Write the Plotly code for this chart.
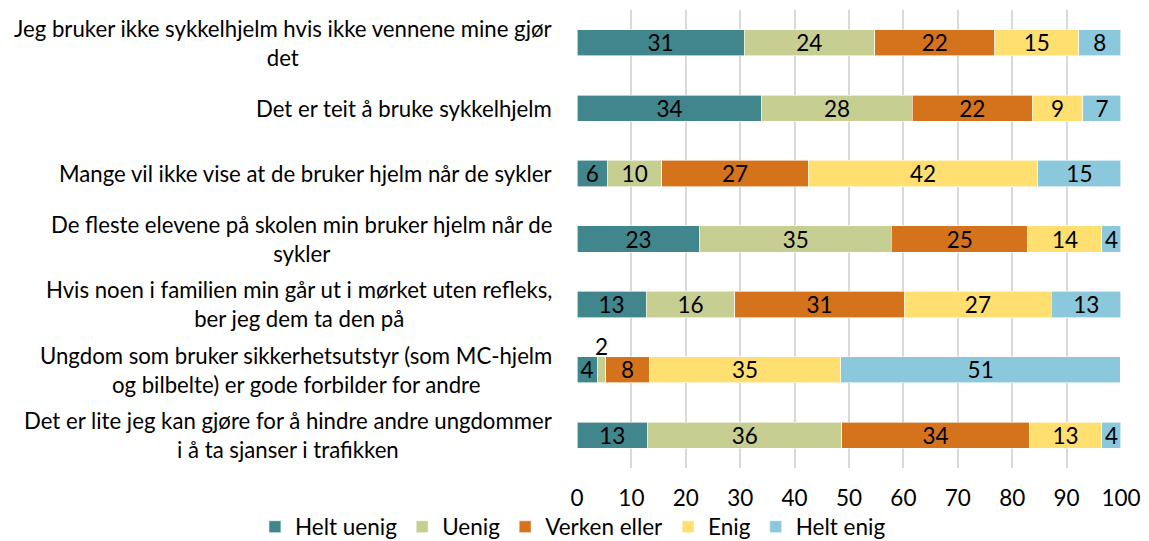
import plotly.graph_objects as go

categories = [
    "Jeg bruker ikke sykkelhjelm hvis ikke vennene mine gjør<br>det",
    "Det er teit å bruke sykkelhjelm",
    "Mange vil ikke vise at de bruker hjelm når de sykler",
    "De fleste elevene på skolen min bruker hjelm når de<br>sykler",
    "Hvis noen i familien min går ut i mørket uten refleks,<br>ber jeg dem ta den på",
    "Ungdom som bruker sikkerhetsutstyr (som MC-hjelm<br>og bilbelte) er gode forbilder for andre",
    "Det er lite jeg kan gjøre for å hindre andre ungdommer<br>i å ta sjanser i trafikken",
]
series_names = ["Helt uenig", "Uenig", "Verken eller", "Enig", "Helt enig"]
helt_uenig = [30.7, 34.0, 5.6, 22.6, 12.7, 3.7, 13.0]
uenig = [24.0, 27.6, 10.0, 35.2, 16.3, 1.6, 35.7]
verken_eller = [22.1, 22.1, 26.9, 25.1, 31.2, 8.0, 34.4]
enig = [15.4, 9.3, 42.2, 13.6, 27.0, 35.2, 13.4]
helt_enig = [7.8, 7.0, 15.3, 3.5, 12.8, 51.4, 3.5]
colors = ["#41868C", "#C6CE92", "#D5731D", "#FFDF70", "#8BC8DC"]
tick_vals = [0, 10, 20, 30, 40, 50, 60, 70, 80, 90, 100]

FONT = "Lato"
FS = 22.5
FS_CAT = 22.2

fig = go.Figure()
all_series = [helt_uenig, uenig, verken_eller, enig, helt_enig]
for name, vals, col in zip(series_names, all_series, colors):
    texts = [f"{v:.0f}" for v in vals]
    if name == "Uenig":
        texts[5] = ""  # label drawn above the bar instead
    fig.add_trace(go.Bar(
        y=categories, x=vals, name=name, orientation="h",
        marker=dict(color=col, line=dict(color="white", width=0.6)),
        text=texts, textposition="inside", insidetextanchor="middle",
        textangle=0,
        textfont=dict(family=FONT, size=FS, color="black"),
        cliponaxis=False,
    ))

# small "2" label above the tiny segment
fig.add_annotation(
    x=helt_uenig[5] + uenig[5] / 2, y=categories[5], xref="x", yref="y",
    text=f"{uenig[5]:.0f}", showarrow=False, yshift=23,
    font=dict(family=FONT, size=FS, color="black"),
)

# category labels as centred multi-line annotations
for c in categories:
    fig.add_annotation(
        x=-0.043, y=c, xref="paper", yref="y", text=c, showarrow=False,
        xanchor="right", align="center",
        font=dict(family=FONT, size=FS_CAT, color="black"),
    )

# page body has an 8px default margin -> shrink figure by 8px
fig.update_layout(
    barmode="stack",
    bargap=0.6,
    width=1141, height=533,
    margin=dict(l=569, r=28, t=2, b=73, autoexpand=False),
    plot_bgcolor="white", paper_bgcolor="rgba(0,0,0,0)",
    showlegend=True,
    legend=dict(
        orientation="h", xref="paper", yref="paper",
        x=-0.592, xanchor="left", y=-0.129, yanchor="middle",
        traceorder="normal", bgcolor="rgba(0,0,0,0)",
        font=dict(family=FONT, size=FS, color="black"),
        itemwidth=30, tracegroupgap=0,
    ),
    uniformtext=dict(minsize=FS, mode="show"),
    font=dict(family=FONT, size=FS, color="black"),
)
fig.update_xaxes(
    range=[0, 100.001], tickvals=tick_vals, showgrid=True,
    gridcolor="#D9D9D9", gridwidth=2, zeroline=False,
    ticks="outside", ticklen=10, tickcolor="rgba(0,0,0,0)",
    tickfont=dict(family=FONT, size=FS, color="black"),
    showline=False, fixedrange=True,
)
fig.update_yaxes(
    autorange="reversed", showticklabels=False, showgrid=False,
    zeroline=False, showline=False,
)

fig.write_html("out.html")
